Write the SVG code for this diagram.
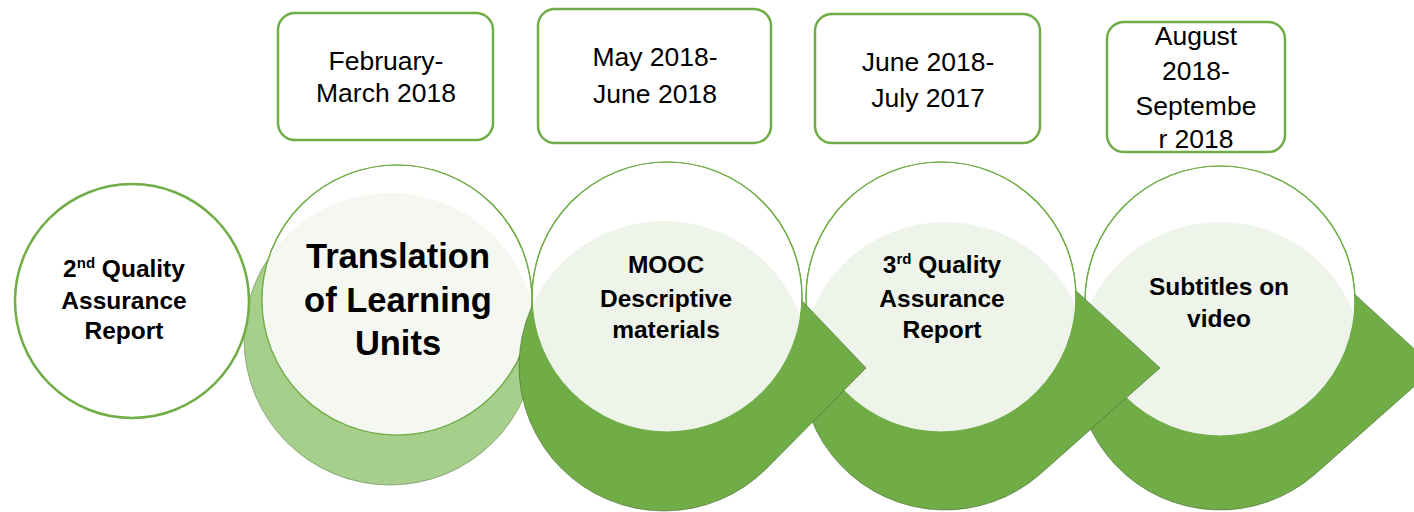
<svg xmlns="http://www.w3.org/2000/svg" width="1414" height="512" viewBox="0 0 1414 512">
  <style>
    .ring { fill: #ffffff; stroke: #70ad47; stroke-width: 1.2; }
    .ring-edge { fill: none; stroke: #70ad47; stroke-width: 1.2; }
    .drop { fill: #70ad47; stroke: #3f5f2c; stroke-opacity: 0.55; stroke-width: 1; }
    .drop-pale { fill: #a5cf8a; stroke: #4f6b3e; stroke-opacity: 0.5; stroke-width: 1; }
    .lens { fill: #eff4ea; }
    .lens-pale { fill: #f4f8f1; }
    .box { fill: #ffffff; stroke: #70ad47; stroke-width: 2.5; }
    .date { font-family: "Liberation Sans", Arial, sans-serif; font-size: 26.5px; fill: #000; text-anchor: middle; }
    .label { font-family: "Liberation Sans", Arial, sans-serif; font-weight: bold; font-size: 24.5px; fill: #000; text-anchor: middle; }
    .label-big { font-family: "Liberation Sans", Arial, sans-serif; font-weight: bold; font-size: 34.5px; fill: #000; text-anchor: middle; }
  </style>
  <defs>
    <clipPath id="clip2"><circle cx="397" cy="300" r="135"/></clipPath>
    <clipPath id="clip3"><circle cx="667" cy="297" r="135"/></clipPath>
    <clipPath id="clip4"><circle cx="941" cy="297" r="135"/></clipPath>
    <clipPath id="clip5"><circle cx="1220" cy="301" r="135"/></clipPath>
  </defs>

  <rect width="1414" height="512" fill="#ffffff"/>

  <!-- date boxes -->
  <g id="date-feb-mar">
    <rect class="box" x="278" y="13" width="215" height="127" rx="17"/>
    <text class="date" x="386" y="70">February-</text>
    <text class="date" x="386" y="102">March 2018</text>
  </g>
  <g id="date-may-jun">
    <rect class="box" x="538" y="9" width="233" height="134" rx="17"/>
    <text class="date" x="655" y="66">May 2018-</text>
    <text class="date" x="655" y="103">June 2018</text>
  </g>
  <g id="date-jun-jul">
    <rect class="box" x="815" y="14" width="225" height="129" rx="17"/>
    <text class="date" x="928" y="71">June 2018-</text>
    <text class="date" x="928" y="107">July 2017</text>
  </g>
  <g id="date-aug-sep">
    <rect class="box" x="1107" y="22" width="178" height="130" rx="17"/>
    <text class="date" x="1196" y="45">August</text>
    <text class="date" x="1196" y="80">2018-</text>
    <text class="date" x="1196" y="115">Septembe</text>
    <text class="date" x="1196" y="148">r 2018</text>
  </g>

  <!-- step 5: subtitles -->
  <g id="node-subtitles">
    <path class="drop" d="M1435,368 L1317.4,259.9 A144,144 0 1 0 1315.4,473.9 Z"/>
    <circle class="ring" cx="1220" cy="301" r="135"/>
    <circle class="lens" cx="1220" cy="366" r="144" clip-path="url(#clip5)"/>
    <circle class="ring-edge" cx="1220" cy="301" r="135"/>
    <text class="label" x="1219" y="295">Subtitles on</text>
    <text class="label" x="1219" y="327">video</text>
  </g>

  <!-- step 4: third QA report -->
  <g id="node-qa3">
    <path class="drop" d="M1160,368 L1042.4,259.9 A144,144 0 1 0 1040.4,473.9 Z"/>
    <circle class="ring" cx="941" cy="297" r="135"/>
    <circle class="lens" cx="945" cy="366" r="144" clip-path="url(#clip4)"/>
    <circle class="ring-edge" cx="941" cy="297" r="135"/>
    <text class="label" x="942" y="273">3<tspan font-size="15" dy="-9">rd</tspan><tspan dy="9"> Quality</tspan></text>
    <text class="label" x="942" y="307">Assurance</text>
    <text class="label" x="942" y="338">Report</text>
  </g>

  <!-- step 2: translation -->
  <g id="node-translation">
    <circle class="drop-pale" cx="390" cy="339" r="146"/>
    <circle class="ring" cx="397" cy="300" r="135"/>
    <circle class="lens-pale" cx="390" cy="339" r="146" clip-path="url(#clip2)"/>
    <circle class="ring-edge" cx="397" cy="300" r="135"/>
    <text class="label-big" x="398" y="268">Translation</text>
    <text class="label-big" x="398" y="312">of Learning</text>
    <text class="label-big" x="398" y="355">Units</text>
  </g>

  <!-- step 3: MOOC materials -->
  <g id="node-mooc">
    <path class="drop" d="M866,368 L769,266 A145,145 0 1 0 767.1,468 Z"/>
    <circle class="ring" cx="667" cy="297" r="135"/>
    <circle class="lens" cx="664" cy="366" r="145" clip-path="url(#clip3)"/>
    <circle class="ring-edge" cx="667" cy="297" r="135"/>
    <text class="label" x="666" y="273">MOOC</text>
    <text class="label" x="666" y="307">Descriptive</text>
    <text class="label" x="666" y="338">materials</text>
  </g>

  <!-- step 1: second QA report -->
  <g id="node-qa2">
    <circle cx="132" cy="301" r="117" fill="#ffffff" stroke="#70ad47" stroke-width="2.5"/>
    <text class="label" x="124" y="277">2<tspan font-size="15" dy="-9">nd</tspan><tspan dy="9"> Quality</tspan></text>
    <text class="label" x="124" y="309">Assurance</text>
    <text class="label" x="124" y="339">Report</text>
  </g>
</svg>
